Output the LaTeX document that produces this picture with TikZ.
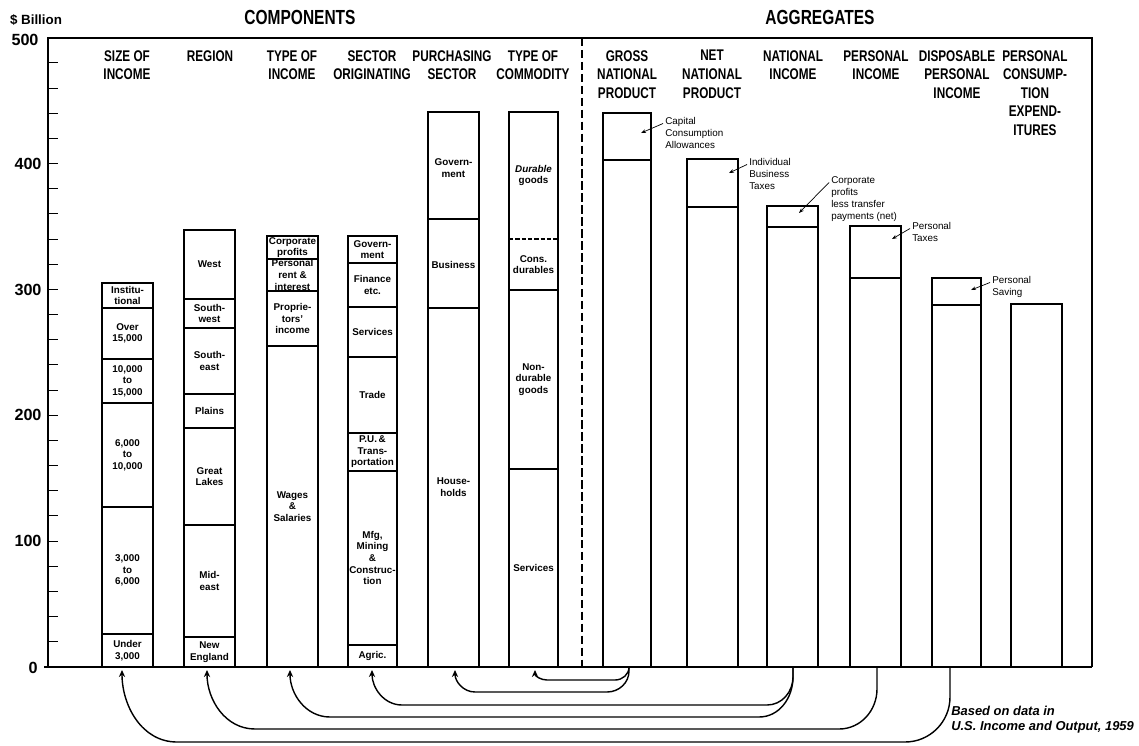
\documentclass[tikz,border=0pt]{standalone}
\usepackage{fontspec}
\setmainfont{Liberation Sans}
\newfontfamily\lettering[FakeStretch=0.76]{Liberation Sans}
\usetikzlibrary{arrows.meta,calc}

\begin{document}
\begin{tikzpicture}[
    x=0.025cm, y=-0.025cm,
    bar/.style={draw, line width=0.9pt},
    seg/.style={font=\fontsize{7}{8.2}\selectfont\bfseries, align=center, inner sep=0pt},
    head/.style={font=\lettering\fontsize{11}{13.2}\selectfont\bfseries, align=center,
                 anchor=north, inner sep=0pt},
    title/.style={font=\lettering\fontsize{14.5}{16}\selectfont\bfseries, inner sep=0pt},
    axlbl/.style={font=\fontsize{11.5}{14}\selectfont\bfseries, inner sep=0pt},
    note/.style={font=\fontsize{7}{8.4}\selectfont, align=left, anchor=north west,
                 inner sep=0pt},
    callout/.style={-{Stealth[length=3.5pt,width=2.6pt]}, line width=0.5pt},
    link/.style={-{Stealth[length=5pt,width=4.5pt]}, line width=1pt},
    >=stealth
  ]
    \useasboundingbox (0,0) rectangle (1139,745);

    % Titles and scale
    \node[title] (comp) at (300,17) {COMPONENTS};
    \node[title] (aggr) at (820,17) {AGGREGATES};
    \node[font=\fontsize{9.5}{12}\selectfont\bfseries, inner sep=0pt] (unit) at (36,20) {\$ Billion};
    \node[axlbl] (y500) at (25,40) {500};
    \node[axlbl] (y400) at (28,164) {400};
    \node[axlbl] (y300) at (28,290) {300};
    \node[axlbl] (y200) at (28,415) {200};
    \node[axlbl] (y100) at (28,541) {100};
    \node[axlbl] (y0) at (33,668) {0};

    % Frame, ticks, baseline
    \draw[bar] (48,667) -- (48,38) -- (1092,38) -- (1092,667);
    \foreach \k in {1,...,24}
      \draw[line width=0.7pt] (48,{667-\k*25.17}) -- (58,{667-\k*25.17});
    \draw[line width=2pt] (44,667) -- (1092,667);
    \draw[line width=0.8pt, dash pattern=on 6pt off 2.5pt] (582,38) -- (582,667);

    % Column headings
    \node[head] (h-size) at (127,50) {SIZE OF\\INCOME};
    \node[head] (h-region) at (210,50) {REGION};
    \node[head] (h-tinc) at (292,50) {TYPE OF\\INCOME};
    \node[head] (h-sect) at (372,50) {SECTOR\\ORIGINATING};
    \node[head] (h-purch) at (452,50) {PURCHASING\\SECTOR};
    \node[head] (h-comm) at (533,50) {TYPE OF\\COMMODITY};
    \node[head] (h-gnp) at (627,50) {GROSS\\NATIONAL\\PRODUCT};
    \node[head] (h-nnp) at (712,50) {NET\\NATIONAL\\PRODUCT};
    \node[head] (h-ni) at (793,50) {NATIONAL\\INCOME};
    \node[head] (h-pi) at (876,50) {PERSONAL\\INCOME};
    \node[head] (h-dpi) at (957,50) {DISPOSABLE\\PERSONAL\\INCOME};
    \node[head] (h-pce) at (1035,50) {PERSONAL\\CONSUMP-\\TION\\EXPEND-\\ITURES};

    % Size of income
    \draw[bar] (102,667) rectangle (153,283);
    \foreach \y in {634,507,403,359,308} \draw[bar] (102,\y) -- (153,\y);
    \node[seg] (s-under) at (127.5,650.5) {Under\\3,000};
    \node[seg] (s-3k) at (127.5,570.5) {3,000\\to\\6,000};
    \node[seg] (s-6k) at (127.5,455) {6,000\\to\\10,000};
    \node[seg] (s-10k) at (127.5,381) {10,000\\to\\15,000};
    \node[seg] (s-15k) at (127.5,333.5) {Over\\15,000};
    \node[seg] (s-inst) at (127.5,295.5) {Institu-\\tional};

    % Region
    \draw[bar] (184,667) rectangle (235,230);
    \foreach \y in {637,525,428,394,328,299} \draw[bar] (184,\y) -- (235,\y);
    \node[seg] (r-ne) at (209.5,652) {New\\England};
    \node[seg] (r-me) at (209.5,581) {Mid-\\east};
    \node[seg] (r-gl) at (209.5,476.5) {Great\\Lakes};
    \node[seg] (r-pl) at (209.5,411) {Plains};
    \node[seg] (r-se) at (209.5,361) {South-\\east};
    \node[seg] (r-sw) at (209.5,313.5) {South-\\west};
    \node[seg] (r-w) at (209.5,264.5) {West};

    % Type of income
    \draw[bar] (267,667) rectangle (318,236);
    \foreach \y in {346,291,259} \draw[bar] (267,\y) -- (318,\y);
    \node[seg] (t-wage) at (292.5,506.5) {Wages\\\&\\Salaries};
    \node[seg] (t-prop) at (292.5,318.5) {Proprie-\\tors'\\income};
    \node[seg] (t-rent) at (292.5,275) {Personal\\rent \&\\interest};
    \node[seg] (t-corp) at (292.5,247.5) {Corporate\\profits};

    % Sector originating
    \draw[bar] (348,667) rectangle (397,236);
    \foreach \y in {645,471,433,357,307,263} \draw[bar] (348,\y) -- (397,\y);
    \node[seg] (o-agr) at (372.5,656) {Agric.};
    \node[seg] (o-mfg) at (372.5,558) {Mfg,\\Mining\\\&\\Construc-\\tion};
    \node[seg] (o-pu) at (372.5,452) {P.U.\,\&\\Trans-\\portation};
    \node[seg] (o-trade) at (372.5,395) {Trade};
    \node[seg] (o-serv) at (372.5,332) {Services};
    \node[seg] (o-fin) at (372.5,285) {Finance\\etc.};
    \node[seg] (o-gov) at (372.5,249.5) {Govern-\\ment};

    % Purchasing sector
    \draw[bar] (428,667) rectangle (479,112);
    \foreach \y in {308,219} \draw[bar] (428,\y) -- (479,\y);
    \node[seg] (p-hh) at (453.5,487) {House-\\holds};
    \node[seg] (p-bus) at (453.5,264.5) {Business};
    \node[seg] (p-gov) at (453.5,168) {Govern-\\ment};

    % Type of commodity
    \draw[bar] (509,667) rectangle (558,112);
    \foreach \y in {469,290} \draw[bar] (509,\y) -- (558,\y);
    \draw[line width=0.9pt, dash pattern=on 3pt off 1.5pt] (509,239) -- (558,239);
    \node[seg] (c-serv) at (533.5,568) {Services};
    \node[seg] (c-nd) at (533.5,379.5) {Non-\\durable\\goods};
    \node[seg] (c-cons) at (533.5,264.5) {Cons.\\durables};
    \node[seg] (c-dur) at (533.5,175.5) {\textit{Durable}\\goods};

    % Aggregates
    \draw[bar] (603,667) rectangle (651,113);
    \draw[bar] (603,160) -- (651,160);
    \draw[bar] (687,667) rectangle (738,159);
    \draw[bar] (687,207) -- (738,207);
    \draw[bar] (767,667) rectangle (818,206);
    \draw[bar] (767,227) -- (818,227);
    \draw[bar] (850,667) rectangle (901,226);
    \draw[bar] (850,278) -- (901,278);
    \draw[bar] (932,667) rectangle (981,278);
    \draw[bar] (932,305) -- (981,305);
    \draw[bar] (1011,667) rectangle (1062,304);

    % Callouts
    \coordinate (gnp-top) at (641,133);
    \coordinate (nnp-top) at (729,173);
    \coordinate (ni-top) at (799,213);
    \coordinate (pi-top) at (892,239);
    \coordinate (dpi-top) at (971,290);
    \node[note] (cca) at (665,117.5) {Capital\\Consumption\\Allowances};
    \node[note] (ibt) at (749,158.5) {Individual\\Business\\Taxes};
    \node[note] (cpl) at (831,176.5) {Corporate\\profits\\less transfer\\payments (net)};
    \node[note] (ptax) at (912,222.5) {Personal\\Taxes};
    \node[note] (psav) at (992,276.5) {Personal\\Saving};
    \draw[callout] ($(cca.north west)+(-2,6)$) -- (gnp-top);
    \draw[callout] ($(ibt.north west)+(-2,6)$) -- (nnp-top);
    \draw[callout] ($(cpl.north west)+(-2,6)$) -- (ni-top);
    \draw[callout] ($(ptax.north west)+(-2,6)$) -- (pi-top);
    \draw[callout] ($(psav.north west)+(-2,6)$) -- (dpi-top);

    % Links from aggregates back to components
    \coordinate (size-b) at (122,670);
    \coordinate (region-b) at (207,670);
    \coordinate (tinc-b) at (290,670);
    \coordinate (sect-b) at (372,670);
    \coordinate (purch-b) at (455,670);
    \coordinate (comm-b) at (535,670);
    \coordinate (gnp-b) at (629,667);
    \coordinate (ni-b) at (793,667);
    \coordinate (pi-b) at (877,667);
    \coordinate (dpi-b) at (950,667);
    \draw[link] (gnp-b) to[out=-90,in=0] ++(-14,13)
      -- ($(comm-b)+(12,10)$) to[out=180,in=-90] (comm-b);
    \draw[link] (gnp-b) -- ++(0,4) to[out=-90,in=0] ++(-22,21)
      -- ($(purch-b)+(20,22)$) to[out=180,in=-90] (purch-b);
    \draw[link] (ni-b) -- ++(0,10) to[out=-90,in=0] ++(-26,28)
      -- ($(sect-b)+(30,35)$) to[out=180,in=-90] (sect-b);
    \draw[link] (ni-b) -- ++(0,10) to[out=-90,in=0] ++(-34,40)
      -- ($(tinc-b)+(40,47)$) to[out=180,in=-90] (tinc-b);
    \draw[link] (pi-b) -- ++(0,22) to[out=-90,in=0] ++(-38,40)
      -- ($(region-b)+(48,59)$) to[out=180,in=-90] (region-b);
    \draw[link] (dpi-b) -- ++(0,30) to[out=-90,in=0] ++(-45,45)
      -- ($(size-b)+(55,72)$) to[out=180,in=-90] (size-b);

    % Source
    \node[font=\fontsize{9.2}{10.7}\selectfont\bfseries\itshape, align=left,
          anchor=north west, inner sep=0pt] (src) at (951,706)
      {Based on data in\\U.S. Income and Output, 1959};
  \end{tikzpicture}
\end{document}
